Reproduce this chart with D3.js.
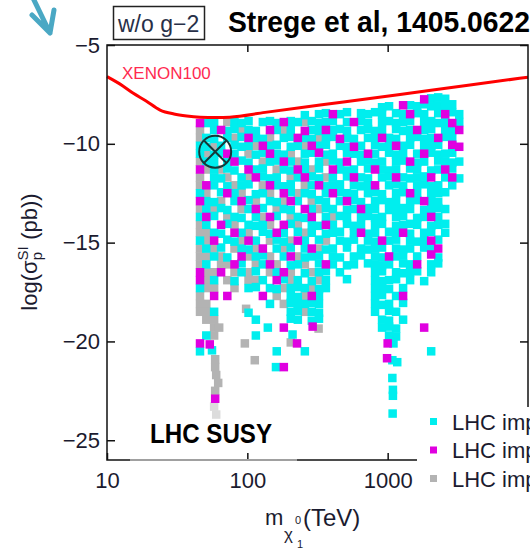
<!DOCTYPE html>
<html><head><meta charset="utf-8">
<script src="https://cdn.jsdelivr.net/npm/d3@7"></script>
<style>body{margin:0;background:#fff}svg{display:block}</style>
</head><body>
<svg id="c" width="530" height="550"></svg>
<script>
// ---------- DATA ----------
const xTicks = [10, 100, 1000];
const yTicks = [-5, -10, -15, -20, -25];
const xenonMass  = [10, 12.4, 15.3, 19, 23.9, 30, 37, 46, 60, 75, 134, 330, 1225, 3860, 10000];
const xenonSigma = [-6.6, -6.98, -7.43, -7.83, -8.29, -8.49, -8.59, -8.65, -8.67, -8.65, -8.41, -8.04, -7.5, -7.02, -6.63];
const benchmarkMass = [59];
const benchmarkSigma = [-10.4];
const legendLabels = ["LHC imp", "LHC imp", "LHC imp"];

const cyanPts = [
[2042,-7.7],[2291,-7.65],[2570,-7.72],
[912,-8.15],[1023,-8.1],[1445,-8.05],[1622,-8.1],[1820,-8.0],[2042,-8.1],[2291,-8.05],[2570,-8.1],[2884,-8.0],
[257,-8.55],[324,-8.5],[363,-8.45],[457,-8.5],[513,-8.4],[646,-8.45],[724,-8.5],[813,-8.4],[912,-8.5],[1148,-8.45],[1288,-8.5],[1622,-8.45],[1820,-8.5],[2291,-8.45],[2884,-8.4],[3236,-8.5],
[51,-8.95],[58,-8.9],[81,-8.9],[91,-8.95],[102,-8.85],[129,-8.9],[145,-8.85],[162,-8.95],[204,-8.85],[229,-8.9],[288,-8.85],[324,-8.95],[363,-8.9],[407,-8.85],[513,-8.9],[646,-8.85],[724,-8.95],[912,-8.9],[1023,-8.85],[1148,-8.95],[1288,-8.9],[1445,-8.85],[1820,-8.9],[2042,-8.85],[2291,-8.95],[2570,-8.9],[3236,-8.9],
[58,-9.3],[72,-9.35],[81,-9.25],[102,-9.3],[115,-9.35],[162,-9.3],[204,-9.25],[288,-9.3],[324,-9.35],[407,-9.3],[457,-9.25],[513,-9.35],[646,-9.3],[724,-9.25],[813,-9.35],[912,-9.3],[1148,-9.25],[1288,-9.35],[1445,-9.3],[1820,-9.3],[2042,-9.25],[2570,-9.3],[2884,-9.35],
[51,-9.7],[58,-9.75],[72,-9.7],[91,-9.65],[115,-9.7],[129,-9.75],[182,-9.7],[204,-9.65],[257,-9.7],[288,-9.75],[363,-9.7],[407,-9.65],[513,-9.7],[575,-9.75],[724,-9.7],[813,-9.65],[1023,-9.7],[1148,-9.75],[1445,-9.7],[1622,-9.65],[1820,-9.75],[2042,-9.7],[2570,-9.65],[2884,-9.75],
[46,-10.1],[51,-10.15],[65,-10.1],[81,-10.05],[91,-10.15],[102,-10.1],[145,-10.1],[162,-10.05],[204,-10.15],[229,-10.1],[324,-10.1],[363,-10.05],[457,-10.1],[513,-10.15],[646,-10.1],[813,-10.05],[912,-10.15],[1023,-10.1],[1288,-10.1],[1445,-10.05],[1820,-10.15],[2042,-10.1],[2291,-10.05],
[46,-10.5],[58,-10.55],[65,-10.45],[81,-10.5],[115,-10.55],[129,-10.45],[162,-10.5],[182,-10.55],[257,-10.5],[288,-10.45],[363,-10.55],[407,-10.5],[513,-10.45],[575,-10.5],[646,-10.55],[813,-10.5],[1023,-10.45],[1148,-10.55],[1288,-10.5],[1622,-10.5],[2042,-10.45],[2291,-10.55],[2570,-10.5],[2884,-10.45],
[51,-10.9],[58,-10.95],[72,-10.9],[91,-10.85],[102,-10.95],[145,-10.9],[162,-10.85],[204,-10.9],[257,-10.95],[324,-10.9],[407,-10.85],[457,-10.95],[646,-10.9],[724,-10.85],[813,-10.95],[912,-10.9],[1148,-10.9],[1288,-10.85],[1622,-10.95],[1820,-10.9],[2291,-10.85],[2570,-10.9],[2884,-10.95],[3236,-10.9],
[58,-11.3],[72,-11.25],[81,-11.35],[115,-11.3],[129,-11.25],[182,-11.3],[204,-11.35],[257,-11.3],[324,-11.25],[457,-11.3],[513,-11.35],[575,-11.3],[724,-11.25],[912,-11.3],[1023,-11.35],[1148,-11.3],[1445,-11.25],[1622,-11.3],[2042,-11.35],[2291,-11.3],[2884,-11.25],
[58,-11.7],[65,-11.75],[91,-11.7],[129,-11.65],[145,-11.75],[162,-11.7],[229,-11.7],[288,-11.65],[324,-11.75],[407,-11.7],[513,-11.65],[646,-11.7],[724,-11.75],[912,-11.7],[1023,-11.65],[1288,-11.7],[1445,-11.75],[1622,-11.7],[1820,-11.65],[2570,-11.7],[3236,-11.75],
[58,-12.1],[72,-12.15],[91,-12.1],[102,-12.05],[162,-12.1],[182,-12.15],[204,-12.05],[288,-12.1],[363,-12.15],[407,-12.1],[457,-12.05],[575,-12.1],[646,-12.15],[724,-12.1],[1023,-12.1],[1148,-12.05],[1288,-12.15],[1622,-12.1],[1820,-12.05],[2042,-12.15],[2291,-12.1],[2884,-12.1],
[46,-12.5],[65,-12.45],[81,-12.5],[115,-12.55],[129,-12.5],[204,-12.45],[257,-12.5],[288,-12.55],[363,-12.5],[457,-12.45],[513,-12.5],[575,-12.55],[724,-12.5],[813,-12.45],[912,-12.55],[1148,-12.5],[1288,-12.45],[1622,-12.5],[2042,-12.55],[2291,-12.5],[2570,-12.45],
[51,-12.9],[58,-12.95],[81,-12.9],[102,-12.85],[145,-12.9],[162,-12.95],[229,-12.9],[324,-12.85],[363,-12.95],[457,-12.9],[575,-12.85],[646,-12.95],[813,-12.9],[912,-12.85],[1023,-12.95],[1148,-12.9],[1445,-12.9],[1622,-12.85],[2042,-12.9],[2291,-12.95],
[51,-13.3],[65,-13.25],[72,-13.35],[102,-13.3],[129,-13.25],[182,-13.3],[204,-13.35],[288,-13.3],[363,-13.25],[407,-13.3],[513,-13.35],[575,-13.3],[724,-13.25],[813,-13.3],[1023,-13.35],[1148,-13.3],[1288,-13.25],[1445,-13.3],[1820,-13.35],[2042,-13.3],[2291,-13.25],[2570,-13.3],
[46,-13.7],[58,-13.65],[81,-13.7],[91,-13.75],[115,-13.7],[162,-13.65],[229,-13.7],[257,-13.75],[363,-13.7],[457,-13.65],[513,-13.75],[646,-13.7],[724,-13.65],[813,-13.75],[912,-13.7],[1148,-13.7],[1288,-13.65],[1622,-13.75],[1820,-13.7],[2291,-13.7],
[51,-14.1],[72,-14.05],[102,-14.1],[115,-14.15],[129,-14.1],[204,-14.05],[288,-14.1],[324,-14.15],[407,-14.1],[513,-14.05],[575,-14.15],[646,-14.1],[813,-14.1],[912,-14.05],[1148,-14.15],[1288,-14.1],[1445,-14.05],[1622,-14.1],[2042,-14.15],[2291,-14.1],[2570,-14.05],
[58,-14.5],[65,-14.55],[91,-14.5],[129,-14.45],[145,-14.55],[182,-14.5],[229,-14.45],[288,-14.5],[363,-14.55],[407,-14.5],[457,-14.45],[575,-14.5],[724,-14.55],[813,-14.5],[1023,-14.45],[1148,-14.5],[1445,-14.55],[1820,-14.5],[2042,-14.45],[2570,-14.5],
[46,-14.9],[72,-14.85],[81,-14.95],[115,-14.9],[162,-14.85],[182,-14.95],[257,-14.9],[324,-14.85],[457,-14.9],[513,-14.95],[575,-14.85],[724,-14.9],[813,-14.95],[1023,-14.9],[1148,-14.85],[1445,-14.9],[1622,-14.95],[1820,-14.9],[2291,-14.85],
[51,-15.3],[65,-15.25],[91,-15.3],[102,-15.35],[162,-15.3],[204,-15.25],[257,-15.3],[363,-15.35],[407,-15.3],[513,-15.25],[646,-15.3],[724,-15.35],[813,-15.3],[912,-15.25],[1148,-15.3],[1288,-15.35],[1445,-15.3],[1820,-15.25],[2042,-15.3],
[58,-15.7],[72,-15.75],[115,-15.7],[129,-15.65],[182,-15.7],[257,-15.75],[288,-15.7],[324,-15.65],[407,-15.7],[457,-15.75],[575,-15.7],[646,-15.65],[813,-15.7],[912,-15.75],[1148,-15.7],[1288,-15.65],[1622,-15.7],[2291,-15.75],
[51,-16.1],[91,-16.05],[129,-16.1],[204,-16.15],[229,-16.1],[324,-16.05],[407,-16.1],[513,-16.15],[575,-16.1],[724,-16.05],[813,-16.1],[912,-16.15],[1023,-16.1],[1288,-16.05],[1445,-16.1],[2042,-16.1],[2291,-16.05],
[91,-16.5],[115,-16.45],[162,-16.5],[257,-16.55],[324,-16.5],[363,-16.45],[457,-16.5],[813,-16.5],[912,-16.45],[1148,-16.5],[1288,-16.55],[1445,-16.5],[1622,-16.45],[2042,-16.5],
[58,-16.9],[81,-16.95],[129,-16.9],[182,-16.85],[229,-16.9],[288,-16.95],[363,-16.9],[513,-16.85],[813,-16.9],[912,-16.95],[1023,-16.9],[1148,-16.85],[1445,-16.9],[1820,-16.95],
[46,-17.3],[102,-17.3],[115,-17.25],[145,-17.3],[162,-17.35],[204,-17.3],[229,-17.25],[257,-17.3],[324,-17.35],[363,-17.3],[813,-17.3],[912,-17.25],[1023,-17.35],[1288,-17.3],
[204,-17.7],[229,-17.75],[324,-17.7],[813,-17.7],[912,-17.65],[1148,-17.7],
[145,-18.1],[204,-18.05],[229,-18.15],[257,-18.1],[288,-18.05],[324,-18.1],[813,-18.1],[912,-18.15],[1023,-18.1],[1288,-18.05],
[58,-18.5],[102,-18.55],[204,-18.5],[229,-18.45],[288,-18.5],[324,-18.55],[813,-18.5],[1023,-18.45],[1148,-18.5],
[115,-18.9],[204,-18.85],[229,-18.9],[288,-18.95],[324,-18.85],[912,-18.9],[1023,-18.95],[1288,-18.9],
[140,-19.3],[912,-19.3],[1023,-19.25],[1148,-19.35],
[51,-19.7],[115,-19.7],[210,-19.65],[1023,-19.7],[1148,-19.75],
[1100,-20.1],
[46,-20.5],[56,-20.45],[162,-20.5],[257,-20.5],[2042,-20.5],
[1080,-20.95],[1170,-21.05],
[160,-21.3],
[1080,-21.85],[1090,-22.45],[1090,-22.75],[1085,-23.65]
];

const magentaPts = [
[1820,-7.75],[1288,-8.05],
[407,-8.5],[1445,-8.5],[2570,-8.5],
[46,-8.95],[182,-8.9],[575,-8.9],[2884,-8.95],
[65,-9.3],[145,-9.3],[257,-9.35],[363,-9.3],[1622,-9.3],[3236,-9.3],
[102,-9.7],[229,-9.7],[457,-9.75],[912,-9.7],[2291,-9.7],
[129,-10.1],[288,-10.1],[575,-10.15],[1148,-10.1],[2884,-10.05],[3236,-10.15],
[72,-10.5],[145,-10.5],[324,-10.45],[724,-10.5],[1820,-10.5],
[81,-10.9],[182,-10.9],[513,-10.9],[1445,-10.9],
[46,-11.3],[102,-11.3],[229,-11.3],[407,-11.3],[813,-11.3],[2570,-11.3],
[115,-11.7],[257,-11.7],[575,-11.7],[1148,-11.7],[2042,-11.7],[2884,-11.7],
[51,-12.1],[145,-12.1],[324,-12.1],[813,-12.1],
[72,-12.5],[182,-12.5],[407,-12.5],[1445,-12.5],
[46,-12.9],[91,-12.9],[204,-12.9],[513,-12.9],[1820,-12.9],
[115,-13.3],[257,-13.3],[646,-13.3],
[51,-13.7],[145,-13.7],[288,-13.7],[2042,-13.7],
[65,-14.1],[182,-14.1],[363,-14.1],
[81,-14.5],[162,-14.5],[646,-14.5],[1288,-14.5],
[58,-14.9],[102,-14.9],[229,-14.9],[912,-14.9],[2042,-14.9],
[129,-15.3],[288,-15.3],[2291,-15.3],
[91,-15.7],[204,-15.7],[1023,-15.7],[2042,-15.6],
[81,-16.1],[145,-16.1],[363,-16.1],[1622,-16.1],
[46,-16.5],[65,-16.5],[182,-16.5],
[46,-16.9],[162,-16.9],
[58,-17.7],[72,-17.7],[129,-17.7],[288,-17.7],[1288,-17.7],
[182,-19.3],[292,-19.25],[1820,-19.3],
[46,-20.1],[54,-20.15],[226,-20.1],[1000,-20.1],
[990,-20.85],
[182,-21.3],
[59,-22.9]
];

const grayPts = [
[72,-8.9],[257,-8.9],
[46,-9.3],[91,-9.3],[182,-9.3],
[46,-9.7],[81,-9.7],[145,-9.7],[324,-9.7],
[58,-10.1],[115,-10.1],[257,-10.1],
[51,-10.5],[102,-10.5],[204,-10.5],
[46,-10.9],[129,-10.9],[229,-10.9],[363,-10.9],
[51,-11.3],[65,-11.3],[162,-11.3],[288,-11.3],
[46,-11.7],[72,-11.7],[102,-11.7],[204,-11.7],[363,-11.7],
[46,-12.1],[81,-12.1],[129,-12.1],[257,-12.1],
[51,-12.5],[91,-12.5],[145,-12.5],[229,-12.5],
[65,-12.9],[115,-12.9],[182,-12.9],[288,-12.9],
[46,-13.3],[58,-13.3],[91,-13.3],[162,-13.3],[324,-13.3],
[72,-13.7],[129,-13.7],[204,-13.7],[407,-13.7],
[46,-14.1],[81,-14.1],[145,-14.1],[229,-14.1],
[46,-14.5],[51,-14.5],[102,-14.5],[257,-14.5],
[51,-14.9],[91,-14.9],[145,-14.9],[204,-14.9],[363,-14.9],
[46,-15.3],[58,-15.3],[81,-15.3],[115,-15.3],[182,-15.3],[324,-15.3],
[46,-15.7],[51,-15.7],[65,-15.7],[102,-15.7],[145,-15.7],[229,-15.7],
[46,-16.1],[65,-16.1],[72,-16.1],[115,-16.1],[162,-16.1],[257,-16.1],
[51,-16.5],[58,-16.5],[81,-16.5],[102,-16.5],[145,-16.5],[204,-16.5],[288,-16.5],
[51,-16.9],[72,-16.9],[102,-16.9],[115,-16.9],[204,-16.9],[324,-16.9],
[51,-17.3],[58,-17.3],[81,-17.3],[182,-17.3],[288,-17.3],
[46,-17.7],[162,-17.7],[257,-17.7],
[46,-18.1],[51,-18.1],[182,-18.1],
[46,-18.5],[51,-18.5],[257,-18.5],[98,-18.35],
[51,-18.9],[58,-18.9],
[58,-19.3],[63,-19.3],[322,-19.35],
[58,-19.7],
[96,-20.1],[204,-20.05],
[59,-20.9],[113,-20.95],
[59,-21.3],[60,-21.7],[62,-22.1],[59,-22.5]
];
const grayFaint = [[58,-23.3],[60,-23.7]];

// ---------- CHART ----------
const FONT = "'Liberation Sans', Arial, sans-serif";
const svg = d3.select('#c').style('font-family', FONT);
const x = d3.scaleLog().domain([10, 10000]).range([107, 528]);
const y = d3.scaleLinear().domain([-26, -5]).range([460, 45]);

svg.append('defs').append('clipPath').attr('id', 'plotclip')
  .append('rect').attr('x', 107).attr('y', 45).attr('width', 421).attr('height', 415);

const pts = svg.append('g').attr('clip-path', 'url(#plotclip)');
const S = 8.5;
function drawSeries(data, color) {
  pts.append('g').selectAll('rect').data(data).join('rect')
    .attr('x', d => x(d[0]) - S / 2).attr('y', d => y(d[1]) - S / 2)
    .attr('width', S).attr('height', S).attr('fill', color);
}
drawSeries(grayPts, '#b3b3b3');
drawSeries(grayFaint, '#dcdcdc');
drawSeries(cyanPts, '#00eeee');
drawSeries(magentaPts, '#e000e0');

// XENON100 limit
const xen = d3.line().x(d => x(d[0])).y(d => y(d[1])).curve(d3.curveMonotoneX);
svg.append('path').datum(xenonMass.map((m, i) => [m, xenonSigma[i]]))
  .attr('d', xen).attr('fill', 'none').attr('stroke', '#ff0000').attr('stroke-width', 3);
svg.append('text').attr('x', 122).attr('y', 79).attr('font-size', 17)
  .attr('fill', '#ff2a50').text('XENON100');

// benchmark marker (circle with cross)
const bm = svg.append('g').selectAll('g').data(benchmarkMass.map((m, i) => [m, benchmarkSigma[i]])).join('g')
  .attr('transform', d => `translate(${x(d[0])},${y(d[1])})`)
  .attr('stroke', '#163838').attr('stroke-width', 2).attr('fill', 'none');
bm.append('circle').attr('r', 16);
bm.append('path').attr('d', 'M-11,-11L11,11M11,-11L-11,11');

// axes
const tickColor = '#1b1b2f';
const fmt = d3.format('d');
const axL = svg.append('g').attr('transform', 'translate(107,0)')
  .call(d3.axisLeft(y).tickValues(yTicks).tickFormat(fmt).tickSizeInner(-8).tickSizeOuter(0).tickPadding(7));
const axR = svg.append('g').attr('transform', 'translate(528,0)')
  .call(d3.axisRight(y).tickValues(yTicks).tickFormat('').tickSizeInner(-8).tickSizeOuter(0));
const axB = svg.append('g').attr('transform', 'translate(0,460)')
  .call(d3.axisBottom(x).tickValues(xTicks).tickFormat(fmt).tickSizeInner(-7).tickSizeOuter(0).tickPadding(12));
const axT = svg.append('g').attr('transform', 'translate(0,45)')
  .call(d3.axisTop(x).tickValues(xTicks.slice(1)).tickFormat('').tickSizeInner(-7).tickSizeOuter(0));
[axL, axR, axB, axT].forEach(a => {
  a.select('.domain').remove();
  a.selectAll('line').attr('stroke', '#111').attr('stroke-width', 1.5);
  a.selectAll('text').attr('font-size', 22).attr('fill', tickColor).attr('font-family', FONT);
});
// frame
svg.append('rect').attr('x', 107).attr('y', 45).attr('width', 421).attr('height', 415)
  .attr('fill', 'none').attr('stroke', '#111').attr('stroke-width', 1.5);
svg.append('line').attr('x1', 130).attr('x2', 297).attr('y1', 460).attr('y2', 460)
  .attr('stroke', '#a0a0a0').attr('stroke-width', 1.8);

// legend (white box covers lower right of the frame)
svg.append('rect').attr('x', 417).attr('y', 407).attr('width', 113).attr('height', 143).attr('fill', '#fff');
const legColors = ['#00eeee', '#e000e0', '#b3b3b3'];
const leg = svg.append('g').selectAll('g').data(legendLabels).join('g')
  .attr('transform', (d, i) => `translate(0,${421.5 + i * 28.5})`);
leg.append('rect').attr('x', 430).attr('y', -3.5).attr('width', 7).attr('height', 7).attr('fill', (d, i) => legColors[i]);
leg.append('text').attr('x', 452).attr('y', 8).attr('font-size', 22).attr('fill', tickColor).text(d => d);

// axis titles
const yl = svg.append('text').attr('transform', 'translate(37,252) rotate(-90)')
  .attr('text-anchor', 'middle').attr('font-size', 22).attr('fill', tickColor);
yl.append('tspan').text('log(σ');
yl.append('tspan').attr('font-size', 15).attr('dy', -9).text('SI');
yl.append('tspan').attr('font-size', 15).attr('dx', -14).attr('dy', 14).text('p');
yl.append('tspan').attr('dx', 6).attr('dy', -5).text(' (pb))');

const xl = svg.append('text').attr('font-size', 22).attr('fill', tickColor);
xl.append('tspan').attr('x', 265).attr('y', 525).text('m');
xl.append('tspan').attr('x', 284).attr('y', 540).attr('font-size', 17).text('χ');
xl.append('tspan').attr('x', 295).attr('y', 524).attr('font-size', 11).text('0');
xl.append('tspan').attr('x', 297).attr('y', 548).attr('font-size', 11).text('1');
xl.append('tspan').attr('x', 303).attr('y', 526).attr('font-size', 24).text('(TeV)');

// annotations
svg.append('text').attr('x', 150).attr('y', 443).attr('font-size', 27).attr('font-weight', 'bold')
  .attr('textLength', 122).attr('lengthAdjust', 'spacingAndGlyphs').attr('fill', '#000').text('LHC SUSY');
svg.append('text').attr('x', 228).attr('y', 32).attr('font-size', 29).attr('font-weight', 'bold')
  .attr('textLength', 302).attr('lengthAdjust', 'spacingAndGlyphs').attr('fill', '#000').text('Strege et al, 1405.0622');
svg.append('rect').attr('x', 113.5).attr('y', 6.5).attr('width', 91).attr('height', 33)
  .attr('fill', '#fff').attr('stroke', '#222').attr('stroke-width', 1.5);
svg.append('text').attr('x', 118).attr('y', 32).attr('font-size', 23).attr('fill', '#283048').text('w/o g−2');

// arrow
svg.append('path').attr('d', 'M33,-2L50,33M32,15L50,33L54,10')
  .attr('fill', 'none').attr('stroke', '#4aa8c4').attr('stroke-width', 5)
  .attr('stroke-linecap', 'round').attr('stroke-linejoin', 'round');
</script>
</body></html>
